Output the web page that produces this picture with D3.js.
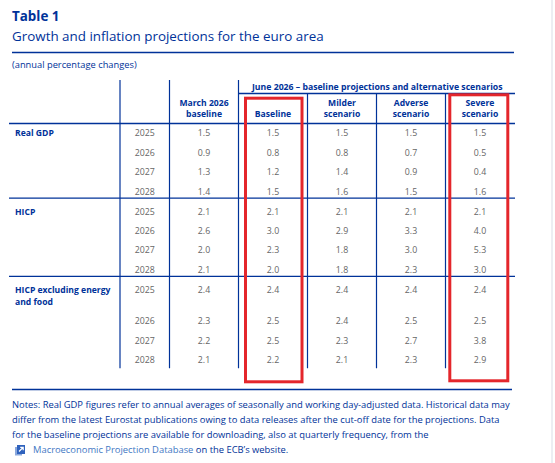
<!DOCTYPE html>
<html>
<head>
<meta charset="utf-8">
<script src="https://cdn.jsdelivr.net/npm/d3@7"></script>
<style>
  body { margin: 0; background: #fff; }
  svg { display: block; font-family: "Open Sans", sans-serif; }
</style>
</head>
<body>
<script>
var groups = ['Real GDP', 'HICP', 'HICP excluding energy and food'];
var years = ['2025', '2026', '2027', '2028'];
var columns = ['March 2026 baseline', 'Baseline', 'Milder scenario', 'Adverse scenario', 'Severe scenario'];

var march2026 = [1.5, 0.9, 1.3, 1.4, 2.1, 2.6, 2.0, 2.1, 2.4, 2.3, 2.2, 2.1];
var baseline  = [1.5, 0.8, 1.2, 1.5, 2.1, 3.0, 2.3, 2.0, 2.4, 2.5, 2.5, 2.2];
var milder    = [1.5, 0.8, 1.4, 1.6, 2.1, 2.9, 1.8, 1.8, 2.4, 2.4, 2.3, 2.1];
var adverse   = [1.5, 0.7, 0.9, 1.5, 2.1, 3.3, 3.0, 2.3, 2.4, 2.5, 2.7, 2.3];
var severe    = [1.5, 0.5, 0.4, 1.6, 2.1, 4.0, 5.3, 3.0, 2.4, 2.5, 3.8, 2.9];

var highlighted = ['Baseline', 'Severe scenario'];

var title = 'Table 1';
var subtitle = 'Growth and inflation projections for the euro area';
var unitNote = '(annual percentage changes)';
var spanner = 'June 2026 \u2013 baseline projections and alternative scenarios';
var notes = [
  'Notes: Real GDP figures refer to annual averages of seasonally and working day-adjusted data. Historical data may',
  'differ from the latest Eurostat publications owing to data releases after the cut-off date for the projections. Data',
  'for the baseline projections are available for downloading, also at quarterly frequency, from the'
];
var linkText = 'Macroeconomic Projection Database';
var linkTail = ' on the ECB\u2019s website.';

var series = [march2026, baseline, milder, adverse, severe];

var width = 555, height = 463;
var blue = '#003299', grey = '#666666', red = '#e4262b';

var svg = d3.select('body').append('svg').attr('width', width).attr('height', height);
svg.append('rect').attr('width', width).attr('height', height).attr('fill', '#fff');
svg.append('rect').attr('x', 551).attr('width', 2).attr('height', height).attr('fill', '#eceef3');

// column scale for the five value columns
var x = d3.scaleBand().domain(columns).range([169.5, 514.5]);
var yearX = 144.75;

// row baselines: uniform step, with an extra line where the group label wraps
var rowStep = 19.4, groupGap = 0.6, wrapExtra = 12;
var rows = [];
var yy = 136.3;
groups.forEach(function (g, gi) {
  years.forEach(function (yr, yi) {
    rows.push({ group: g, gi: gi, year: yr, yi: yi, y: yy });
    yy += rowStep;
    if (yi === 0 && g.length > 20) yy += wrapExtra;
  });
  yy += groupGap;
});
var y = d3.scaleOrdinal().domain(d3.range(rows.length)).range(rows.map(function (r) { return r.y; }));

// titles
svg.append('text').attr('x', 12).attr('y', 21).attr('fill', blue)
  .attr('font-size', 13.4).attr('font-weight', 700).text(title);
svg.append('text').attr('x', 12).attr('y', 40.7).attr('fill', blue)
  .attr('font-size', 13.4).text(subtitle);
svg.append('line').attr('x1', 12).attr('x2', 514).attr('y1', 52.5).attr('y2', 52.5)
  .attr('stroke', blue).attr('stroke-width', 1.4);
svg.append('text').attr('x', 12).attr('y', 68).attr('fill', blue)
  .attr('font-size', 9.3).text(unitNote);

// grid lines
function hline(x1, x2, yv) {
  svg.append('line').attr('x1', x1).attr('x2', x2).attr('y1', yv).attr('y2', yv)
    .attr('stroke', blue).attr('stroke-width', 1.3);
}
function vline(xv, y1, y2) {
  svg.append('line').attr('x1', xv).attr('x2', xv).attr('y1', y1).attr('y2', y2)
    .attr('stroke', blue).attr('stroke-width', 1.2);
}
var tableBottom = 368.3;
vline(120, 80, tableBottom);
vline(x(columns[0]), 80, tableBottom);
vline(x(columns[1]), 80, tableBottom);
columns.slice(2).forEach(function (c) { vline(x(c), 93.5, tableBottom); });
hline(x(columns[1]), 515, 93.5);
hline(9, 515, 123.5);
groups.slice(1).forEach(function (g, i) {
  var first = rows.findIndex(function (r) { return r.gi === i + 1; });
  hline(9, 515, (y(first - 1) + y(first)) / 2 - 6.4);
});
hline(12, 512, 389.5);

// spanner header
svg.append('text').attr('x', (x(columns[1]) + 515) / 2 + 0.5).attr('y', 90)
  .attr('text-anchor', 'middle').attr('fill', blue).attr('font-size', 8.7)
  .attr('font-weight', 700).text(spanner);

// column headers
columns.forEach(function (c) {
  var words = c.split(' ');
  var lines = words.length > 2 ? [words.slice(0, 2).join(' '), words.slice(2).join(' ')]
    : words.length === 2 ? words : [c];
  var t = svg.append('text').attr('text-anchor', 'middle').attr('fill', blue)
    .attr('font-size', 8.6).attr('font-weight', 700);
  lines.forEach(function (l, i) {
    t.append('tspan').attr('x', x(c) + x.bandwidth() / 2)
      .attr('y', 116.7 - (lines.length - 1 - i) * 11).text(l);
  });
});

// group labels
groups.forEach(function (g, gi) {
  var first = rows.findIndex(function (r) { return r.gi === gi; });
  var lines = g.length > 20 ? ['HICP excluding energy', 'and food'] : [g];
  var t = svg.append('text').attr('fill', blue).attr('font-size', 8.6).attr('font-weight', 700);
  lines.forEach(function (l, i) {
    t.append('tspan').attr('x', 15).attr('y', y(first) + i * 12.3).text(l);
  });
});

// years
svg.append('g').selectAll('text').data(rows).enter().append('text')
  .attr('x', yearX).attr('y', function (d, i) { return y(i); })
  .attr('text-anchor', 'middle').attr('fill', grey).attr('font-size', 8.8)
  .text(function (d) { return d.year; });

// values
columns.forEach(function (c, ci) {
  svg.append('g').selectAll('text').data(series[ci]).enter().append('text')
    .attr('x', x(c) + x.bandwidth() / 2).attr('y', function (d, i) { return y(i); })
    .attr('text-anchor', 'middle').attr('fill', grey).attr('font-size', 8.8)
    .text(function (d) { return d3.format('.1f')(d); });
});

// red highlight boxes
var boxInset = { 'Baseline': [7, 5.5, 98.2, 381.8], 'Severe scenario': [4.3, 6.7, 94.8, 380.8] };
highlighted.forEach(function (c) {
  var b = boxInset[c];
  svg.append('rect').attr('x', x(c) + b[0]).attr('y', b[2])
    .attr('width', x.bandwidth() - b[0] - b[1]).attr('height', b[3] - b[2])
    .attr('fill', 'none').attr('stroke', red).attr('stroke-width', 3);
});

// notes
notes.forEach(function (n, i) {
  svg.append('text').attr('x', 12).attr('y', 408.3 + i * 15).attr('fill', blue)
    .attr('font-size', 9.4).text(n);
});
var icon = svg.append('g').attr('transform', 'translate(15,445)');
icon.append('path').attr('d', 'M0,2 L7,2 L7,10.5 L0,10.5 Z').attr('fill', '#8aa8dc');
icon.append('path').attr('d', 'M2,0 L10,0 L10,9 L2,9 Z').attr('fill', '#2f62bd');
icon.append('path').attr('d', 'M4,6.5 L8,2.5 M5.2,2.3 L8.2,2.3 L8.2,5.3')
  .attr('stroke', '#fff').attr('stroke-width', 1.2).attr('fill', 'none');
var last = svg.append('text').attr('x', 33).attr('y', 408.3 + 3 * 15).attr('font-size', 9.4);
last.append('tspan').attr('fill', '#3f78c4').text(linkText);
last.append('tspan').attr('fill', blue).text(linkTail);
</script>
</body>
</html>
